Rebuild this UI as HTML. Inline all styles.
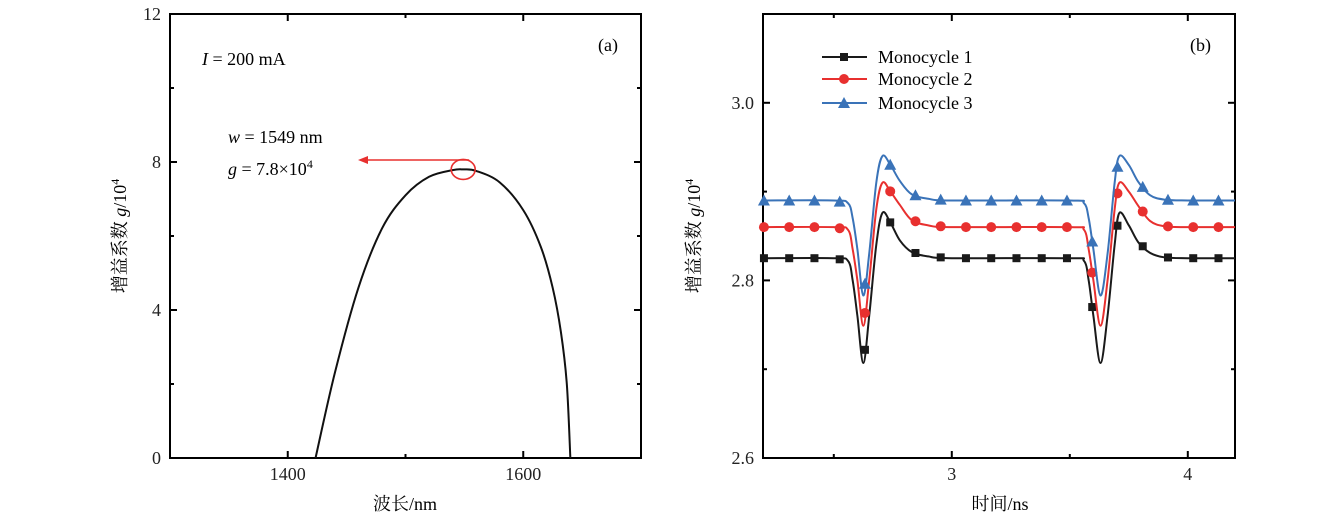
<!DOCTYPE html>
<html><head><meta charset="utf-8"><style>
body{margin:0;background:#fff;}
svg{display:block;font-family:"Liberation Serif","Noto Serif CJK SC",serif;}
</style></head><body>
<svg id="fig" width="1339" height="520" viewBox="0 0 1339 520">
<g id="pa"></g>
<g id="pb"></g>
</svg>
<script>
// Panel (a) data
const aWavelength=[1423.6,1440,1460,1480,1500,1520,1540,1549,1560,1580,1600,1615,1625,1632,1637,1640];
const aGain=[0,2.3,4.6,6.2,7.1,7.6,7.78,7.8,7.76,7.45,6.7,5.7,4.6,3.4,2.0,0];
const aXTicks=[1400,1600];
const aYTicks=[0,4,8,12];
// Panel (b) data
const bTime=[2.2,2.5,2.56,2.58,2.60,2.625,2.65,2.68,2.706,2.74,2.78,2.83,2.9,3.0,3.5,3.56,3.58,3.60,3.63,3.66,3.69,3.71,3.75,3.79,3.84,3.9,4.0,4.2];
const bMono1=[2.825,2.825,2.822,2.80,2.76,2.707,2.76,2.84,2.876,2.865,2.845,2.832,2.827,2.825,2.825,2.822,2.80,2.76,2.707,2.76,2.84,2.876,2.862,2.843,2.831,2.826,2.825,2.825];
const bMono2=[2.86,2.86,2.857,2.835,2.80,2.749,2.80,2.88,2.91,2.90,2.885,2.868,2.862,2.86,2.86,2.857,2.835,2.80,2.749,2.80,2.88,2.91,2.90,2.884,2.867,2.861,2.86,2.86];
const bMono3=[2.89,2.89,2.887,2.87,2.835,2.783,2.83,2.91,2.94,2.93,2.912,2.897,2.892,2.89,2.89,2.887,2.87,2.835,2.783,2.83,2.91,2.94,2.93,2.911,2.896,2.891,2.89,2.89];
const bMarkerTimes=[2.204,2.311,2.418,2.525,2.632,2.739,2.846,2.953,3.060,3.167,3.274,3.381,3.488,3.595,3.702,3.809,3.916,4.023,4.130];
const bXTicks=[3,4];
const bYTicks=[2.6,2.8,3.0];
const bLabels=["Monocycle 1","Monocycle 2","Monocycle 3"];
const bColors=["#1a1a1a","#e8302f","#3a73b8"];

const NS="http://www.w3.org/2000/svg";
function mk(p,t,a){const e=document.createElementNS(NS,t);for(const k in a)e.setAttribute(k,a[k]);p.appendChild(e);return e;}
function smooth(pts){let d="M"+pts[0][0]+","+pts[0][1];for(let i=0;i<pts.length-1;i++){const p0=pts[Math.max(0,i-1)],p1=pts[i],p2=pts[i+1],p3=pts[Math.min(pts.length-1,i+2)];const c1x=p1[0]+(p2[0]-p0[0])/6,c1y=p1[1]+(p2[1]-p0[1])/6,c2x=p2[0]-(p3[0]-p1[0])/6,c2y=p2[1]-(p3[1]-p1[1])/6;d+=" C"+c1x+","+c1y+" "+c2x+","+c2y+" "+p2[0]+","+p2[1];}return d;}
function interp(xs,ys,x){for(let i=0;i<xs.length-1;i++){if(x>=xs[i]&&x<=xs[i+1]){const t=(x-xs[i])/(xs[i+1]-xs[i]);return ys[i]+t*(ys[i+1]-ys[i]);}}return ys[ys.length-1];}

function frame(g,L,T,R,B,xs,ys,xMaj,xMin,yMaj,yMin,xFmt,yFmt){
  let e=mk(g,"rect",{x:L,y:T,width:R-L,height:B-T,fill:"none",stroke:"#000","stroke-width":2});
  
  xMaj.forEach(v=>{const x=xs(v);mk(g,"line",{x1:x,y1:B,x2:x,y2:B-7,stroke:"#000","stroke-width":2});mk(g,"line",{x1:x,y1:T,x2:x,y2:T+7,stroke:"#000","stroke-width":2});
    const t=mk(g,"text",{x:x,y:B+22,"text-anchor":"middle","font-size":18,fill:"#222"});t.textContent=xFmt(v);
    });
  xMin.forEach(v=>{const x=xs(v);mk(g,"line",{x1:x,y1:B,x2:x,y2:B-4,stroke:"#000","stroke-width":2});mk(g,"line",{x1:x,y1:T,x2:x,y2:T+4,stroke:"#000","stroke-width":2});});
  yMaj.forEach(v=>{const y=ys(v);mk(g,"line",{x1:L,y1:y,x2:L+7,y2:y,stroke:"#000","stroke-width":2});mk(g,"line",{x1:R,y1:y,x2:R-7,y2:y,stroke:"#000","stroke-width":2});
    const t=mk(g,"text",{x:L-9,y:y+6,"text-anchor":"end","font-size":18,fill:"#222"});t.textContent=yFmt(v);
    });
  yMin.forEach(v=>{const y=ys(v);mk(g,"line",{x1:L,y1:y,x2:L+4,y2:y,stroke:"#000","stroke-width":2});mk(g,"line",{x1:R,y1:y,x2:R-4,y2:y,stroke:"#000","stroke-width":2});});
}

// Panel a
(function(){
  const g=document.getElementById("pa");
  const L=170,R=641,T=14,B=458;
  const xs=v=>L+(v-1300)/400*(R-L), ys=v=>B-v/12*(B-T);
  frame(g,L,T,R,B,xs,ys,aXTicks,[1500],aYTicks,[2,6,10],v=>v,v=>v);
  const pts=aWavelength.map((w,i)=>[xs(w),ys(aGain[i])]);
  let e=mk(g,"path",{d:smooth(pts),fill:"none",stroke:"#111","stroke-width":2});
  
  e=mk(g,"ellipse",{cx:xs(1549),cy:ys(7.8),rx:12,ry:10,fill:"none",stroke:"#e8302f","stroke-width":1.6});
  
  e=mk(g,"line",{x1:xs(1549)+6,y1:160,x2:366,y2:160,stroke:"#e8302f","stroke-width":1.6});
  
  mk(g,"polygon",{points:"358,160 368,156 368,164",fill:"#e8302f"});
  let t=mk(g,"text",{x:202,y:65,"font-size":18});t.innerHTML='<tspan font-style="italic">I</tspan> = 200 mA';
  
  t=mk(g,"text",{x:598,y:51,"font-size":18});t.textContent="(a)";
  
  t=mk(g,"text",{x:228,y:143,"font-size":18});t.innerHTML='<tspan font-style="italic">w</tspan> = 1549 nm';
  
  t=mk(g,"text",{x:228,y:175,"font-size":18});t.innerHTML='<tspan font-style="italic">g</tspan> = 7.8×10<tspan font-size="12" dy="-7">4</tspan>';
  
  t=mk(g,"text",{x:405,y:510,"text-anchor":"middle","font-size":18});t.textContent="波长/nm";
  
  t=mk(g,"text",{x:0,y:0,"text-anchor":"middle","font-size":18,transform:"translate(126,236) rotate(-90)"});t.innerHTML='增益系数 <tspan font-style="italic">g</tspan>/10<tspan font-size="12" dy="-7">4</tspan>';
  
})();

// Panel b
(function(){
  const g=document.getElementById("pb");
  const L=763,R=1235,T=14,B=458;
  const xs=v=>L+(v-2.2)/2.0*(R-L), ys=v=>B-(v-2.6)/0.5*(B-T);
  frame(g,L,T,R,B,xs,ys,bXTicks,[2.5,3.5],bYTicks,[2.7,2.9],v=>v,v=>v.toFixed(1));
  const series=[bMono1,bMono2,bMono3];
  series.forEach((s,si)=>{
    const pts=bTime.map((t,i)=>[xs(t),ys(s[i])]);
    const p=mk(g,"path",{d:smooth(pts),fill:"none",stroke:bColors[si],"stroke-width":2});
    
    bMarkerTimes.forEach(mt=>{
      const x=xs(mt),y=ys(interp(bTime,s,mt));let m;
      if(si===0)m=mk(g,"rect",{x:x-4,y:y-4,width:8,height:8,fill:bColors[0]});
      else if(si===1)m=mk(g,"circle",{cx:x,cy:y,r:5,fill:bColors[1]});
      else m=mk(g,"polygon",{points:`${x},${y-6} ${x-6},${y+5} ${x+6},${y+5}`,fill:bColors[2]});
      
    });
    const ly=[57,79,103][si];
    const lg=mk(g,"g",{});
    mk(lg,"line",{x1:822,y1:ly,x2:867,y2:ly,stroke:bColors[si],"stroke-width":2});
    if(si===0)mk(lg,"rect",{x:840,y:ly-4,width:8,height:8,fill:bColors[0]});
    else if(si===1)mk(lg,"circle",{cx:844,cy:ly,r:5,fill:bColors[1]});
    else mk(lg,"polygon",{points:`844,${ly-6} 838,${ly+5} 850,${ly+5}`,fill:bColors[2]});
    const t=mk(lg,"text",{x:878,y:ly+6,"font-size":18});t.textContent=bLabels[si];
  });
  let t=mk(g,"text",{x:1190,y:51,"font-size":18});t.textContent="(b)";
  
  t=mk(g,"text",{x:1000,y:510,"text-anchor":"middle","font-size":18});t.textContent="时间/ns";
  
  t=mk(g,"text",{x:0,y:0,"text-anchor":"middle","font-size":18,transform:"translate(700,236) rotate(-90)"});t.innerHTML='增益系数 <tspan font-style="italic">g</tspan>/10<tspan font-size="12" dy="-7">4</tspan>';
  
})();
</script>
</body></html>
